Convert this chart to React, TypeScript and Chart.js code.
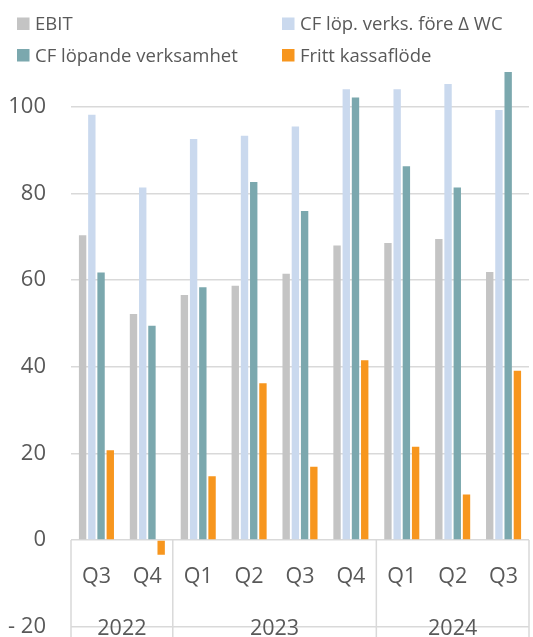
import React, { useEffect, useRef } from "react";
import { Chart, registerables } from "chart.js";
Chart.register(...registerables);

const quarters = ["Q3", "Q4", "Q1", "Q2", "Q3", "Q4", "Q1", "Q2", "Q3"];
const years = ["2022", "2023", "2024"];
const quartersPerYear = [2, 4, 3];
const seriesNames = ["EBIT", "CF löp. verks. före Δ WC", "CF löpande verksamhet", "Fritt kassaflöde"];
const ebit = [70.4, 52.2, 56.6, 58.7, 61.5, 68.0, 68.6, 69.5, 61.9];
const cfBeforeWC = [98.2, 81.4, 92.6, 93.4, 95.5, 104.1, 104.1, 105.3, 99.3];
const cfOperating = [61.8, 49.5, 58.4, 82.7, 76.0, 102.2, 86.3, 81.4, 108.1];
const freeCashFlow = [20.7, -3.4, 14.7, 36.2, 16.9, 41.5, 21.5, 10.5, 39.1];
const yTicks = [-20, 0, 20, 40, 60, 80, 100];

const colors = ["#c4c4c4", "#cad9ee", "#7ba8ae", "#f7961e"];
const gridColor = "#d9d9d9";
const textColor = "#595959";
const FONT = "'Open Sans', 'Noto Sans', sans-serif";

const customPlugin = {
  id: "customDecor",
  afterDraw(chart: any) {
    const { ctx, scales } = chart;
    const x = scales.x;
    const y = scales.y;
    const y0 = y.getPixelForValue(0);
    const yLow = y.getPixelForValue(-20);
    const half = (x.getPixelForValue(1) - x.getPixelForValue(0)) / 2;
    ctx.save();
    // category separators
    ctx.strokeStyle = gridColor;
    ctx.lineWidth = 1.5;
    const bounds = [0];
    let acc = 0;
    quartersPerYear.forEach((n) => {
      acc += n;
      bounds.push(acc);
    });
    bounds.forEach((b) => {
      const px = b === 0 ? x.getPixelForValue(0) - half : x.getPixelForValue(b - 1) + half;
      ctx.beginPath();
      ctx.moveTo(px, y0);
      ctx.lineTo(px, chart.height);
      ctx.stroke();
    });
    // quarter labels
    ctx.fillStyle = textColor;
    ctx.font = `21.5px ${FONT}`;
    ctx.textAlign = "center";
    ctx.textBaseline = "alphabetic";
    quarters.forEach((q, i) => {
      ctx.fillText(q, x.getPixelForValue(i), y0 + 43.5);
    });
    // year labels
    years.forEach((yr, i) => {
      const a = bounds[i];
      const b = bounds[i + 1] - 1;
      const cx = (x.getPixelForValue(a) + x.getPixelForValue(b)) / 2;
      ctx.fillText(yr, cx, yLow + 8.5);
    });
    // legend
    const legendPos = [
      [17, 17.5, 29.5],
      [282, 17.5, 29.5],
      [17, 49, 62],
      [282, 49, 62],
    ];
    ctx.textAlign = "left";
    ctx.font = `18.5px ${FONT}`;
    chart.data.datasets.forEach((ds: any, i: number) => {
      const [lx, by, ty] = legendPos[i];
      ctx.fillStyle = ds.backgroundColor;
      ctx.fillRect(lx, by, 12.5, 12.5);
      ctx.fillStyle = textColor;
      ctx.fillText(ds.label, lx + 18, ty);
    });
    ctx.restore();
  },
};

export default function App() {
  const ref = useRef<HTMLCanvasElement | null>(null);
  useEffect(() => {
    if (!ref.current) return;
    const seriesData = [ebit, cfBeforeWC, cfOperating, freeCashFlow];
    const chart = new Chart(ref.current, {
      type: "bar",
      data: {
        labels: quarters,
        datasets: seriesNames.map((name, i) => ({
          label: name,
          data: seriesData[i],
          backgroundColor: colors[i],
          borderWidth: 0,
          barPercentage: 0.8,
          categoryPercentage: 0.725,
        })),
      },
      options: {
        animation: false,
        responsive: true,
        maintainAspectRatio: false,
        layout: { padding: { top: 72, right: 4, bottom: 10.5, left: 0 } },
        plugins: {
          legend: { display: false },
          tooltip: { enabled: false },
        },
        scales: {
          x: { display: false },
          y: {
            min: -20,
            max: 108.1,
            afterFit: (scale: any) => {
              scale.width = 71;
              scale.paddingTop = 0;
              scale.paddingBottom = 0;
            },
            afterBuildTicks: (scale: any) => {
              scale.ticks = yTicks.map((v) => ({ value: v }));
            },
            border: { display: false },
            grid: { color: gridColor, lineWidth: 1.5, drawTicks: false },
            ticks: {
              padding: 25,
              color: textColor,
              font: { family: FONT, size: 22 },
              callback: (v: any) => (v < 0 ? "- " + Math.abs(v) : String(v)),
            },
          },
        },
      },
      plugins: [customPlugin],
    });
    return () => chart.destroy();
  }, []);
  return (
    <div style={{ position: "fixed", left: 0, top: 0, width: 533, height: 637, background: "#fff" }}>
      <canvas ref={ref} />
    </div>
  );
}
